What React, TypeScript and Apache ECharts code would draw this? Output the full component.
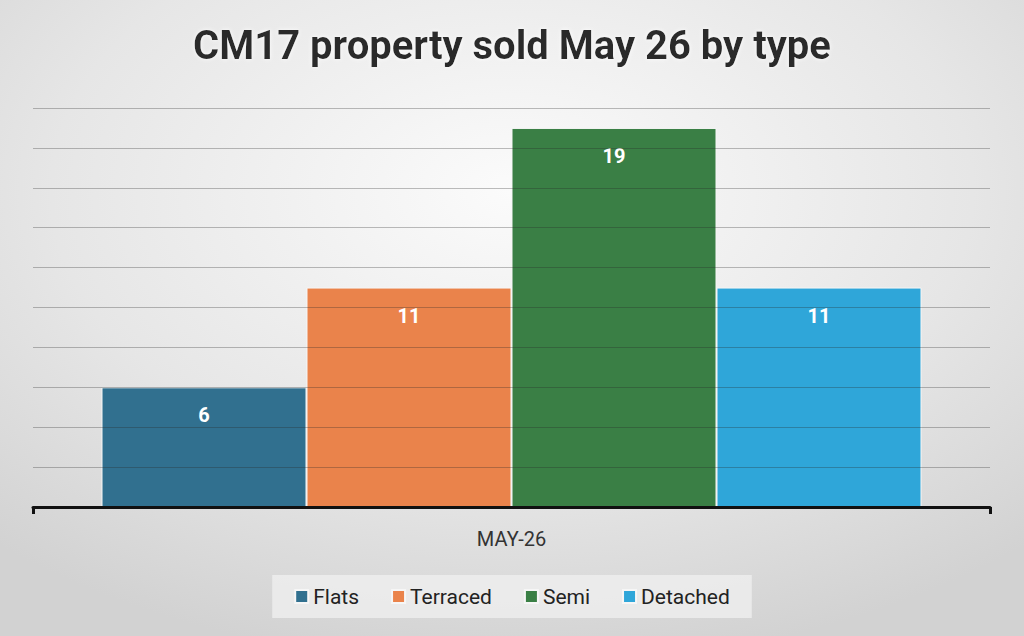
import React, { useEffect, useRef } from "react";
import * as echarts from "echarts";

const categories = ["MAY-26"];
const seriesNames = ["Flats", "Terraced", "Semi", "Detached"];
const seriesValues = [[6], [11], [19], [11]];
const seriesColors = ["#31708f", "#ea834b", "#3a7f45", "#2fa6d9"];

export default function App() {
  const ref = useRef<HTMLDivElement>(null);
  useEffect(() => {
    const chart = echarts.init(ref.current!, null, { renderer: "svg" });
    chart.setOption({
      animation: false,
      graphic: [
        {
          type: "rect",
          z: -10,
          silent: true,
          shape: { x: 0, y: 0, width: 1024, height: 636 },
          style: {
            fill: new echarts.graphic.RadialGradient(0.5, 0.3, 0.75, [
              { offset: 0, color: "#fbfbfb" },
              { offset: 0.6, color: "#e6e6e6" },
              { offset: 1, color: "#d2d2d2" },
            ]),
          },
        },
      ],
      title: {
        text: "CM17 property sold May 26 by type",
        left: "center",
        top: 20,
        textStyle: {
          fontFamily: "Roboto",
          fontWeight: 700,
          fontSize: 40,
          color: "#2b2b2b",
          textShadowColor: "rgba(255,255,255,0.9)",
          textShadowBlur: 4,
        },
      },
      grid: { left: 33, right: 34, top: 108, bottom: 129 },
      xAxis: {
        type: "category",
        data: categories,
        axisLine: { lineStyle: { color: "#111", width: 3 } },
        axisTick: { show: true, length: 7, lineStyle: { color: "#111", width: 3 } },
        axisLabel: {
          fontFamily: "Roboto",
          fontSize: 20,
          color: "#333",
          margin: 22,
        },
        z: 4,
      },
      yAxis: {
        type: "value",
        min: 0,
        max: 20,
        interval: 2,
        axisLabel: { show: false },
        axisLine: { show: false },
        axisTick: { show: false },
        splitLine: { lineStyle: { color: "rgba(40,40,40,0.3)", width: 1.2 } },
        z: 3,
      },
      legend: {
        bottom: 18,
        left: "center",
        itemWidth: 13,
        itemHeight: 13,
        itemGap: 32,
        icon: "rect",
        backgroundColor: "rgba(240,240,240,0.75)",
        padding: [11, 22],
        textStyle: { fontFamily: "Roboto", fontSize: 21, color: "#222" },
        data: seriesNames,
      },
      series: seriesNames.map((name, i) => ({
        name,
        type: "bar",
        data: seriesValues[i],
        barWidth: 205,
        barGap: "0%",
        itemStyle: { color: seriesColors[i], borderColor: "#f6f6f6", borderWidth: 1 },
        label: {
          show: true,
          position: "insideTop",
          distance: 18,
          color: "#fff",
          fontFamily: "Roboto",
          fontWeight: 700,
          fontSize: 20,
        },
      })),
    });
    return () => chart.dispose();
  }, []);
  return <div ref={ref} style={{ width: 1024, height: 636, position: "absolute", left: 0, top: 0 }} />;
}
